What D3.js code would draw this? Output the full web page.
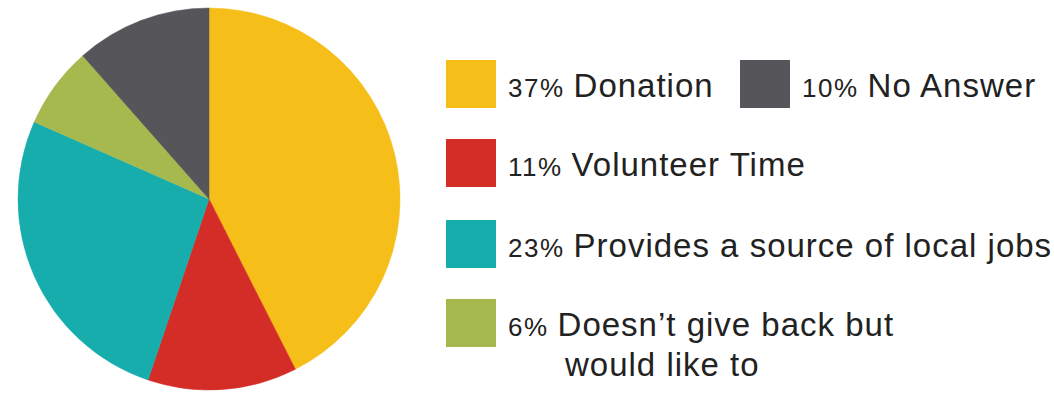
<!DOCTYPE html>
<html>
<head>
<meta charset="utf-8">
<script src="https://cdn.jsdelivr.net/npm/d3@7"></script>
<style>
  html, body { margin: 0; padding: 0; background: #ffffff; }
  svg { display: block; }
</style>
</head>
<body>
<svg id="chart" width="1054" height="394"></svg>
<script>
// Survey answers, in the order the slices run clockwise from 12 o'clock
const categories = ["Donation", "Volunteer Time", "Provides a source of local jobs", "Doesn\u2019t give back but|would like to", "No Answer"];
const values = [37, 11, 23, 6, 10];
const colors = ["#F5BE19", "#D42D27", "#17ADAD", "#A5B94F", "#55555A"];

const svg = d3.select("#chart");
const cx = 209, cy = 199, radius = 191;

const pie = d3.pie().sort(null).value(d => d.value);
const arc = d3.arc().innerRadius(0).outerRadius(radius);

const data = categories.map((c, i) => ({ name: c, value: values[i], color: colors[i] }));

svg.append("g")
  .attr("transform", `translate(${cx},${cy})`)
  .selectAll("path")
  .data(pie(data))
  .join("path")
  .attr("d", arc)
  .attr("fill", d => d.data.color)
  .attr("stroke", d => d.data.color)
  .attr("stroke-width", 0.5);

// Legend: first row holds Donation and No Answer side by side, the rest stack below
const legendSlots = [
  { x: 446, y: 60 },
  { x: 446, y: 139 },
  { x: 446, y: 220 },
  { x: 446, y: 299 },
  { x: 740, y: 60 }
];
const swatchW = 50, swatchH = 48;

const legend = svg.append("g")
  .attr("font-family", "Liberation Sans, Arial, Helvetica, sans-serif")
  .attr("fill", "#222222");

data.forEach((d, i) => {
  const slot = legendSlots[i];
  const g = legend.append("g").attr("transform", `translate(${slot.x},${slot.y})`);
  g.append("rect")
    .attr("width", swatchW)
    .attr("height", swatchH)
    .attr("fill", d.color);

  const lines = d.name.split("|");
  const text = g.append("text")
    .attr("x", swatchW + 12)
    .attr("y", 37);
  text.append("tspan")
    .attr("font-size", 26)
    .attr("letter-spacing", 1.5)
    .text(d.value + "%");
  text.append("tspan")
    .attr("font-size", 33)
    .attr("letter-spacing", 1)
    .attr("dx", 9)
    .text(lines[0]);
  if (lines.length > 1) {
    g.append("text")
      .attr("x", swatchW + 69)
      .attr("y", 77)
      .attr("font-size", 33)
      .attr("letter-spacing", 1)
      .text(lines[1]);
  }
});
</script>
</body>
</html>
